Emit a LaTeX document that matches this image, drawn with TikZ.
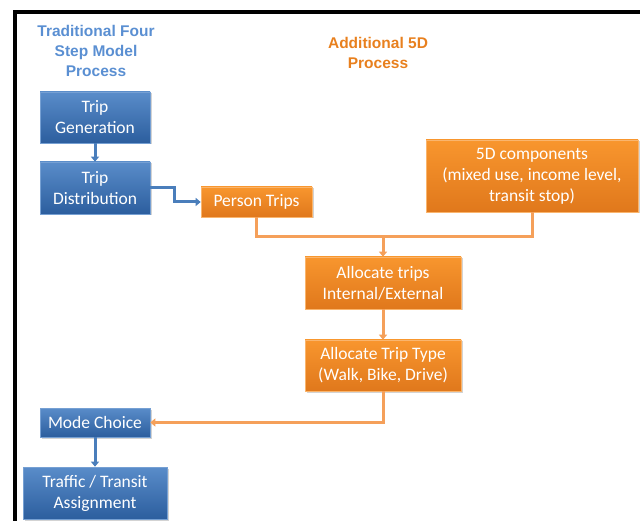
\documentclass[tikz,border=0pt]{standalone}
\usepackage{fontspec}
\setmainfont{Carlito}
\newfontfamily\titlefont{Liberation Sans}
\usetikzlibrary{arrows.meta,positioning,shadows}

\definecolor{stepblue}{HTML}{3C78C0}
\definecolor{stepbluedark}{HTML}{2C5E9E}
\definecolor{stepblueline}{HTML}{4A7EBB}
\definecolor{fivedorange}{HTML}{F8962E}
\definecolor{fivedorangedark}{HTML}{E0781C}
\definecolor{fivedline}{HTML}{F5A05A}
\definecolor{titleblue}{HTML}{5A8FD2}
\definecolor{titleorange}{HTML}{E8801E}

\begin{document}
\begin{tikzpicture}[
        x=1pt, y=-1pt,
        box/.style={
            rectangle,
            align=center,
            inner sep=0pt,
            font=\fontsize{17.5}{21}\selectfont,
            text=white,
            drop shadow={shadow xshift=1.5pt, shadow yshift=-1.5pt, opacity=0.35}
        },
        fourstep/.style={
            box,
            top color=stepblue!85!white,
            bottom color=stepbluedark,
            draw=stepblue!70!white,
            line width=0.6pt
        },
        fived/.style={
            box,
            top color=fivedorange,
            bottom color=fivedorangedark,
            draw=fivedorange!70!white,
            line width=0.6pt
        },
        heading/.style={
            align=center,
            font=\titlefont\bfseries\fontsize{15.5}{20}\selectfont
        },
        blueflow/.style={
            -{Triangle[length=5pt,width=8pt]},
            line width=3pt,
            draw=stepblueline
        },
        orangeflow/.style={
            -{Triangle[length=5pt,width=8pt]},
            line width=3pt,
            draw=fivedline
        },
        orangeline/.style={
            line width=3pt,
            draw=fivedline
        }
    ]
        \useasboundingbox (0,0) rectangle (640,521);
        % frame
        \draw[line width=3.5pt] (15,521) -- (15,12) -- (640,12);

        % headings
        \node[heading, text=titleblue] (leftttl) at (96,51) {Traditional Four\\Step Model\\Process};
        \node[heading, text=titleorange] (rightttl) at (378,53) {Additional 5D\\Process};

        % four step model
        \node[fourstep, minimum width=110pt, minimum height=51pt] (gen) at (95,117.5) {Trip\\Generation};
        \node[fourstep, minimum width=110pt, minimum height=52pt] (dist) at (95,188) {Trip\\Distribution};
        \node[fourstep, minimum width=110pt, minimum height=29pt] (mode) at (95,422.5) {Mode Choice};
        \node[fourstep, minimum width=144pt, minimum height=52pt] (assign) at (95,493) {Traffic / Transit\\Assignment};

        % 5D process
        \node[fived, minimum width=111pt, minimum height=30pt] (person) at (256.5,202) {Person Trips};
        \node[fived, minimum width=212pt, minimum height=72pt] (comp) at (532,176) {5D components\\(mixed use, income level,\\transit stop)};
        \node[fived, minimum width=156pt, minimum height=52pt] (alloc) at (383,283) {Allocate trips\\Internal/External};
        \node[fived, minimum width=156pt, minimum height=51pt] (type) at (383,365.5) {Allocate Trip Type\\(Walk, Bike, Drive)};
        \coordinate (merge) at (383,237);

        \draw[blueflow] (gen) -- (dist);
        \draw[blueflow] (dist.east) -- ++(24,0) |- (person.west);
        \draw[orangeline] (person.south) |- (merge);
        \draw[orangeline] (comp.south) |- (merge);
        \draw[orangeflow] (merge) -- (alloc.north);
        \draw[orangeflow] (alloc) -- (type);
        \draw[orangeflow] (type.south) |- (mode.east);
        \draw[blueflow] (mode) -- (assign);
    \end{tikzpicture}
\end{document}
